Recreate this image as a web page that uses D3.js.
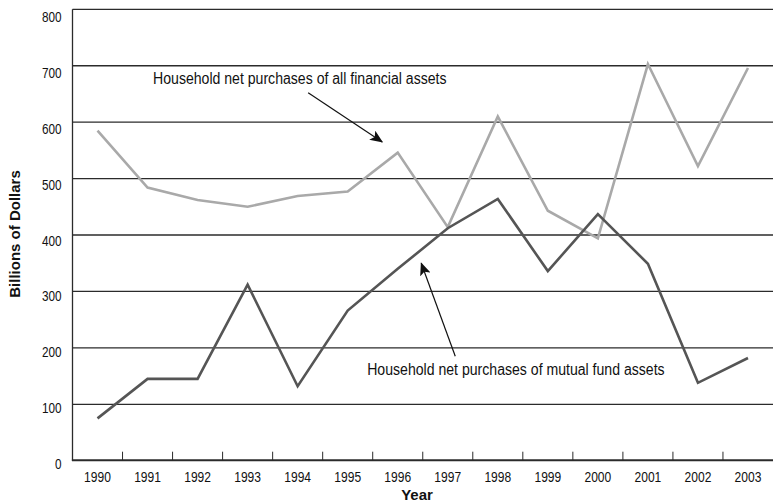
<!DOCTYPE html>
<html>
<head>
<meta charset="utf-8">
<script src="https://cdn.jsdelivr.net/npm/d3@7"></script>
<style>
  html, body { margin: 0; padding: 0; background: #fff; }
  svg { display: block; }
  .narrow { font-family: "Liberation Sans", Arial, Helvetica, sans-serif; }
  .bold { font-family: "Liberation Sans", Arial, Helvetica, sans-serif; font-weight: bold; }
</style>
</head>
<body>
<svg id="chart" width="773" height="503"></svg>
<script>
const years = [1990,1991,1992,1993,1994,1995,1996,1997,1998,1999,2000,2001,2002,2003];
const allFinancial = [585,484,462,450,469,477,546,414,610,443,394,703,522,696];
const mutualFund = [75,145,145,312,132,266,340,412,464,336,437,349,138,182];
const yTicks = [0,100,200,300,400,500,600,700,800];
const labelAll = "Household net purchases of all financial assets";
const labelMutual = "Household net purchases of mutual fund assets";

(function () {
const svg = d3.select("#chart");
const pLeft = 72.5, pRight = 773, pTop = 9.3, pBottom = 460.7;

const x = d3.scalePoint().domain(years).range([pLeft, pRight]).padding(0.5);
const step = x.step();
const xc = v => x(1990) + (v - 1990) * step; // continuous year position for annotations
const y = d3.scaleLinear().domain([0, 800]).range([pBottom, pTop]);
// tick labels sit slightly below their gridlines in the reference
const yLab = d3.scaleLinear().domain([0, 800]).range([464, 17]);

// condense text horizontally (reference uses a condensed face)
function condense(sel, factor) {
  sel.each(function () {
    const w = this.getComputedTextLength();
    d3.select(this).attr("textLength", w * factor).attr("lengthAdjust", "spacingAndGlyphs");
  });
}

// gridlines
svg.append("g").selectAll("line").data(yTicks.filter(d => d > 0)).join("line")
  .attr("x1", pLeft).attr("x2", pRight)
  .attr("y1", d => y(d)).attr("y2", d => y(d))
  .attr("stroke", "#2b2b2b").attr("stroke-width", 1.3);

// left axis line
svg.append("line").attr("x1", pLeft).attr("x2", pLeft).attr("y1", pTop).attr("y2", pBottom)
  .attr("stroke", "#2b2b2b").attr("stroke-width", 1.3);

// y tick labels
svg.append("g").selectAll("text").data(yTicks).join("text")
  .attr("class", "narrow")
  .attr("x", 61.5).attr("y", d => yLab(d) + 5)
  .attr("text-anchor", "end").attr("font-size", 14).attr("fill", "#111")
  .text(d => d)
  .call(condense, 0.84);

// bottom axis
svg.append("line").attr("x1", pLeft - 0.6).attr("x2", pRight).attr("y1", pBottom - 0.5).attr("y2", pBottom - 0.5)
  .attr("stroke", "#2b2b2b").attr("stroke-width", 2);
svg.append("g").selectAll("line").data(years.slice(1)).join("line")
  .attr("x1", d => x(d) - step / 2).attr("x2", d => x(d) - step / 2)
  .attr("y1", pBottom - 9).attr("y2", pBottom)
  .attr("stroke", "#2b2b2b").attr("stroke-width", 1);

svg.append("g").selectAll("text").data(years).join("text")
  .attr("class", "narrow")
  .attr("x", d => x(d)).attr("y", 482)
  .attr("text-anchor", "middle").attr("font-size", 14).attr("fill", "#111")
  .text(d => d)
  .call(condense, 0.86);

// axis titles
svg.append("text").attr("class", "bold")
  .attr("x", 417).attr("y", 500).attr("text-anchor", "middle")
  .attr("font-size", 15).attr("fill", "#111").text("Year");
svg.append("text").attr("class", "bold")
  .attr("transform", "translate(20,234) rotate(-90)")
  .attr("text-anchor", "middle")
  .attr("font-size", 15).attr("fill", "#111").text("Billions of Dollars");

// lines
const line = d3.line().x((d, i) => x(years[i])).y(d => y(d));
svg.append("path").datum(allFinancial).attr("d", line)
  .attr("fill", "none").attr("stroke", "#a9a9a9").attr("stroke-width", 2.6)
  .attr("stroke-linejoin", "miter");
svg.append("path").datum(mutualFund).attr("d", line)
  .attr("fill", "none").attr("stroke", "#555555").attr("stroke-width", 2.6)
  .attr("stroke-linejoin", "miter");

// arrow marker
svg.append("defs").append("marker")
  .attr("id", "arr").attr("viewBox", "0 0 13 11").attr("refX", 12).attr("refY", 5.5)
  .attr("markerWidth", 13).attr("markerHeight", 11).attr("markerUnits", "userSpaceOnUse")
  .attr("orient", "auto")
  .append("path").attr("d", "M0,0 L13,5.5 L0,11 L3,5.5 Z").attr("fill", "#111");

// annotations (positions in data coordinates)
const annotations = [
  { text: labelAll, tx: 1991.11, ty: 667, ax1: 1994.21, ay1: 652, ax2: 1995.69, ay2: 565 },
  { text: labelMutual, tx: 1995.39, ty: 151, ax1: 1997.15, ay1: 185, ax2: 1996.47, ay2: 350 }
];
annotations.forEach(a => {
  svg.append("text").attr("class", "narrow")
    .attr("x", xc(a.tx)).attr("y", y(a.ty))
    .attr("font-size", 16).attr("fill", "#111").text(a.text)
    .call(condense, 0.88);
  svg.append("line")
    .attr("x1", xc(a.ax1)).attr("y1", y(a.ay1))
    .attr("x2", xc(a.ax2)).attr("y2", y(a.ay2))
    .attr("stroke", "#111").attr("stroke-width", 1.2)
    .attr("marker-end", "url(#arr)");
});
})();
</script>
</body>
</html>
